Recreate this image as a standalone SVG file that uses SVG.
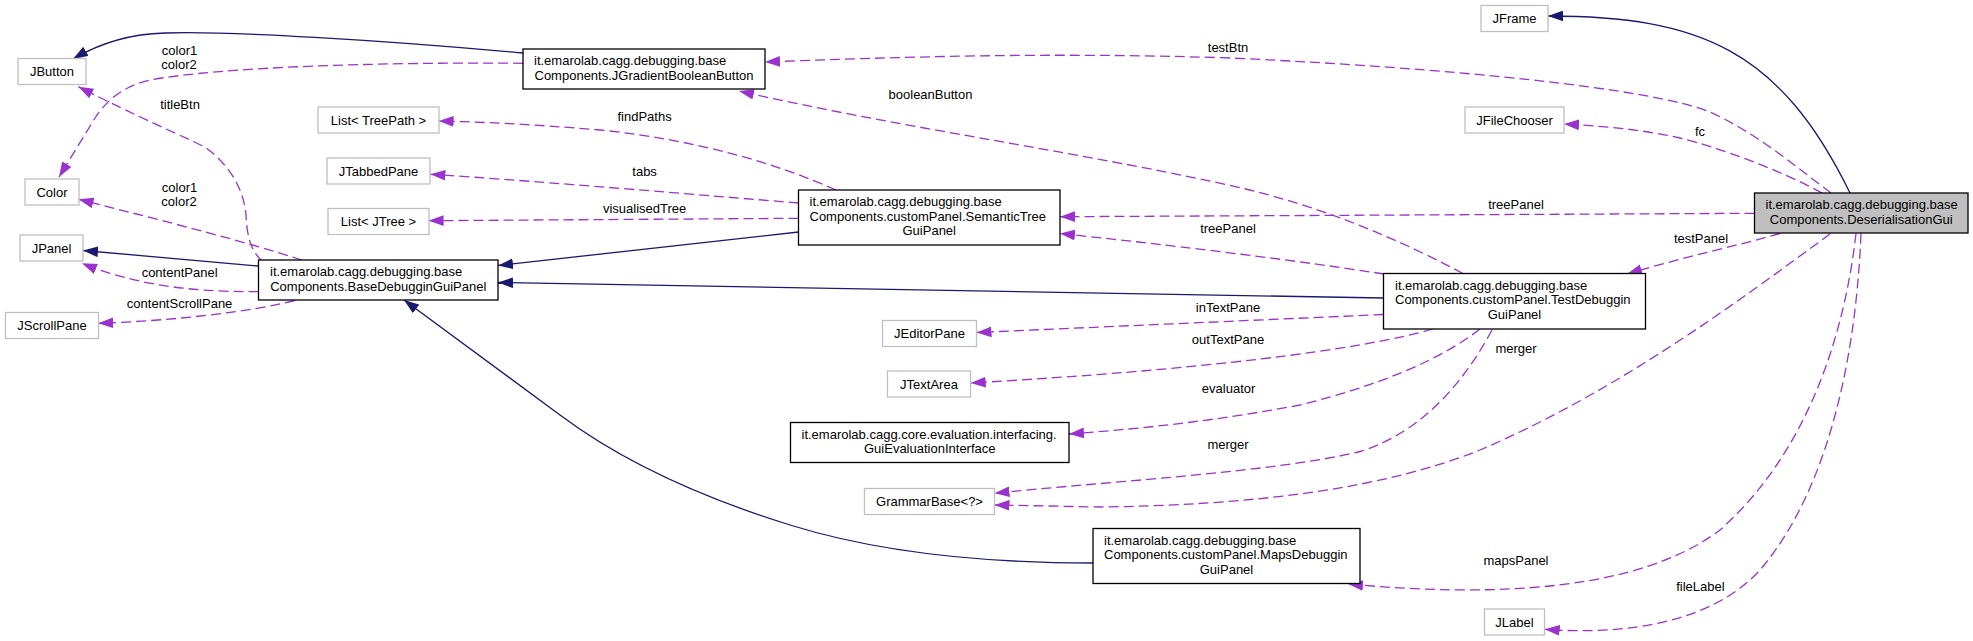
<svg xmlns="http://www.w3.org/2000/svg" width="1973" height="641" viewBox="0 0 1973 641">
<defs>
<style>
text{font-family:"Liberation Sans",Arial,Helvetica,sans-serif;font-size:13px;fill:#000}
.c{text-anchor:middle}
.n rect{fill:#fff;stroke:#000;stroke-width:1.3}
.x rect{fill:#fff;stroke:#bfbfbf;stroke-width:1.3}
.cur rect{fill:#bfbfbf;stroke:#000;stroke-width:1.3}
.inh{fill:none;stroke:#191970;stroke-width:1.3;marker-end:url(#an)}
.use{fill:none;stroke:#9a32cd;stroke-width:1.3;stroke-dasharray:10,5;marker-end:url(#ap)}
</style>
<marker id="an" markerUnits="userSpaceOnUse" markerWidth="15" markerHeight="11" viewBox="0 0 14 10" refX="14" refY="5" orient="auto"><path d="M0,0 L14,5 L0,10 z" fill="#191970"/></marker>
<marker id="ap" markerUnits="userSpaceOnUse" markerWidth="15" markerHeight="11" viewBox="0 0 14 10" refX="14" refY="5" orient="auto"><path d="M0,0 L14,5 L0,10 z" fill="#9a32cd"/></marker>
</defs>
<rect width="1973" height="641" fill="#fff"/>
<g id="connectors">
<path class="inh" d="M523,53 C380,40 230,31 165,33 C125,34 95,46 73,59"/>
<path class="inh" d="M258.5,266 L83,250.5"/>
<path class="inh" d="M798.5,232 L498,265.5"/>
<path class="inh" d="M1383.5,298 L498,282.5"/>
<path class="inh" d="M1093,563 C990,563 880,553 790,525 C700,497 620,460 560,415 L404,300"/>
<path class="inh" d="M1850,193 C1780,50 1700,16 1548,16"/>
<g><path class="use" d="M1831,193 C1800,170 1760,135 1710,112 C1650,88 1450,68 1230,58 C1050,52 900,57 765,62"/><text class="c" x="1228" y="52">testBtn</text></g>
<g><path class="use" d="M1822,193 C1780,170 1720,148 1680,138 C1640,129 1600,126 1564,124"/><text class="c" x="1700" y="136">fc</text></g>
<g><path class="use" d="M1754.5,213.3 L1060,216.7"/><text class="c" x="1516" y="208.8">treePanel</text></g>
<g><path class="use" d="M1384,274 C1280,258 1160,244 1060,233.5"/><text class="c" x="1228" y="233">treePanel</text></g>
<g><path class="use" d="M1463,273.5 C1400,240 1330,210 1250,190 C1100,155 900,128 739,91"/><text class="c" x="930.5" y="98.8">booleanButton</text></g>
<g><path class="use" d="M1780,233.5 C1740,245 1680,258 1627,274"/><text class="c" x="1701" y="242.8">testPanel</text></g>
<g><path class="use" d="M1830,234 C1740,300 1620,390 1480,450 C1380,490 1250,505 1100,507 L994.5,505"/><text class="c" x="1228" y="448.5">merger</text></g>
<g><path class="use" d="M1492,330 C1465,380 1425,430 1362,451 C1280,472 1100,482 994.5,493.3"/><text class="c" x="1516" y="352.8">merger</text></g>
<g><path class="use" d="M1480,329 C1440,360 1380,385 1300,405 C1220,420 1150,428 1069,434"/><text class="c" x="1228.6" y="392.8">evaluator</text></g>
<g><path class="use" d="M1433,329 C1360,350 1200,370 970.7,383"/><text class="c" x="1228" y="343.8">outTextPane</text></g>
<g><path class="use" d="M1383.5,314.5 L976.5,332.5"/><text class="c" x="1228" y="311.8">inTextPane</text></g>
<g><path class="use" d="M1856,233.5 C1845,330 1810,450 1720,530 C1640,590 1500,598 1348,584"/><text class="c" x="1516" y="564.5">mapsPanel</text></g>
<g><path class="use" d="M1861,233.5 C1855,380 1820,500 1760,570 C1710,625 1620,635 1544.7,629.3"/><text class="c" x="1700.4" y="591">fileLabel</text></g>
<g><path class="use" d="M836,190 C780,165 700,140 600,130 C530,124 480,122 438.6,121"/><text class="c" x="644.6" y="121">findPaths</text></g>
<g><path class="use" d="M798.5,203 C700,195 550,182 430.4,174.3"/><text class="c" x="644.6" y="176">tabs</text></g>
<g><path class="use" d="M798.5,218.3 L428.6,220.7"/><text class="c" x="644.6" y="212.8">visualisedTree</text></g>
<g><path class="use" d="M302,260 C240,240 160,220 78.6,199.3"/><text class="c" x="179.5" y="192">color1</text><text class="c" x="179" y="206">color2</text></g>
<g><path class="use" d="M523,63.3 C380,62 220,67 150,80 C120,87 105,103 95,118 L59,177"/><text class="c" x="179.5" y="55">color1</text><text class="c" x="179" y="69">color2</text></g>
<g><path class="use" d="M262,261 C250,250 247,235 246,215 C244,190 230,165 205,147 C180,135 140,118 78.3,86.7"/><text class="c" x="180" y="108.8">titleBtn</text></g>
<g><path class="use" d="M258.5,291.7 C200,292 140,287 82,263.3"/><text class="c" x="179.6" y="277">contentPanel</text></g>
<g><path class="use" d="M294.6,300.5 C250,312 170,321 98.2,323.3"/><text class="c" x="179.6" y="307.8">contentScrollPane</text></g>
</g>
<g id="JFrame" class="x"><rect x="1481" y="5.5" width="67" height="26"/><text class="c" x="1514.5" y="23">JFrame</text></g>
<g id="JButton" class="x"><rect x="18" y="58.5" width="68" height="26"/><text class="c" x="52" y="76">JButton</text></g>
<g id="JGradientBooleanButton" class="n"><rect x="523" y="49" width="242" height="40"/><text x="534" y="65">it.emarolab.cagg.debugging.base</text><text class="c" x="644" y="79.5">Components.JGradientBooleanButton</text></g>
<g id="JFileChooser" class="x"><rect x="1465" y="107" width="99" height="26"/><text class="c" x="1514.5" y="124.5">JFileChooser</text></g>
<g id="ListTreePath" class="x"><rect x="318" y="107" width="121" height="26"/><text class="c" x="378.5" y="124.5">List&lt; TreePath &gt;</text></g>
<g id="JTabbedPane" class="x"><rect x="327" y="158" width="103" height="26"/><text class="c" x="378.5" y="175.5">JTabbedPane</text></g>
<g id="Color" class="x"><rect x="25" y="179" width="54" height="26"/><text class="c" x="52" y="196.5">Color</text></g>
<g id="ListJTree" class="x"><rect x="328" y="208.5" width="101" height="26"/><text class="c" x="378.5" y="226">List&lt; JTree &gt;</text></g>
<g id="SemanticTreeGuiPanel" class="n"><rect x="798.5" y="190" width="261.5" height="55"/><text x="809.5" y="206">it.emarolab.cagg.debugging.base</text><text x="809.5" y="220.5">Components.customPanel.SemanticTree</text><text class="c" x="929.25" y="235">GuiPanel</text></g>
<g id="DeserialisationGui" class="cur"><rect x="1754.5" y="193" width="213.5" height="40"/><text x="1765.5" y="209">it.emarolab.cagg.debugging.base</text><text class="c" x="1861.25" y="223.5">Components.DeserialisationGui</text></g>
<g id="JPanel" class="x"><rect x="20" y="235" width="63" height="26"/><text class="c" x="51.5" y="252.5">JPanel</text></g>
<g id="BaseDebugginGuiPanel" class="n"><rect x="258.5" y="260" width="239.5" height="40"/><text x="270" y="276">it.emarolab.cagg.debugging.base</text><text class="c" x="378.25" y="290.5">Components.BaseDebugginGuiPanel</text></g>
<g id="JScrollPane" class="x"><rect x="5.5" y="312.5" width="93" height="26"/><text class="c" x="52" y="330">JScrollPane</text></g>
<g id="TestDebugginGuiPanel" class="n"><rect x="1383.5" y="273.5" width="262" height="55.5"/><text x="1395" y="289.5">it.emarolab.cagg.debugging.base</text><text x="1395" y="304">Components.customPanel.TestDebuggin</text><text class="c" x="1514.5" y="318.5">GuiPanel</text></g>
<g id="JEditorPane" class="x"><rect x="882.5" y="320.5" width="94" height="26"/><text class="c" x="929.5" y="338">JEditorPane</text></g>
<g id="JTextArea" class="x"><rect x="887.5" y="371" width="83" height="26"/><text class="c" x="929" y="388.5">JTextArea</text></g>
<g id="GuiEvaluationInterface" class="n"><rect x="790.5" y="422.5" width="278.5" height="40"/><text x="801.5" y="438.5">it.emarolab.cagg.core.evaluation.interfacing.</text><text class="c" x="929.75" y="453">GuiEvaluationInterface</text></g>
<g id="GrammarBase" class="x"><rect x="864.5" y="488.5" width="130" height="26"/><text class="c" x="929.5" y="506">GrammarBase&lt;?&gt;</text></g>
<g id="MapsDebugginGuiPanel" class="n"><rect x="1093" y="528.5" width="267" height="55"/><text x="1104" y="544.5">it.emarolab.cagg.debugging.base</text><text x="1104" y="559">Components.customPanel.MapsDebuggin</text><text class="c" x="1226.5" y="573.5">GuiPanel</text></g>
<g id="JLabel" class="x"><rect x="1484.5" y="609" width="60" height="26"/><text class="c" x="1514.5" y="626.5">JLabel</text></g>
</svg>
